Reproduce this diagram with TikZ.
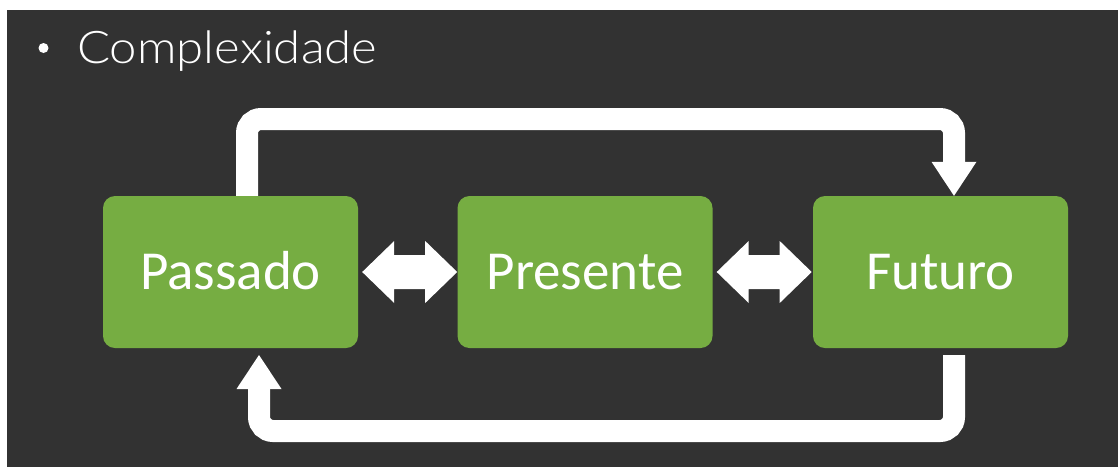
\documentclass[tikz,border=0pt]{standalone}
\usepackage{fontspec}
\setmainfont{Carlito}
\newfontfamily\titlefont{Lato}[UprightFont=* Light]
\usetikzlibrary{arrows.meta}
\definecolor{bg}{HTML}{323232}
\definecolor{grn}{HTML}{76AD42}
\begin{document}
\begin{tikzpicture}[x=1pt,y=-1pt,
  box/.style={fill=grn, rounded corners=12pt, minimum width=255pt, minimum height=152pt, inner sep=0pt, text=white, font=\fontsize{55}{60}\selectfont, text height=35pt, text depth=0pt},
  loopline/.style={draw=white, line width=22pt, rounded corners=14pt, -{Triangle[length=34pt,width=45pt,line width=0pt]}},
  dblarrow/.style={fill=white}
]
\useasboundingbox (0,0) rectangle (1118,467);
\fill[white] (0,0) rectangle (1118,467);
\fill[bg] (7,10) rectangle (1118,467);
\node[circle, fill=white, minimum size=10pt, inner sep=0pt] (bul) at (43.5,48) {};
\node[anchor=base west, inner sep=0pt, text=white, font=\titlefont\fontsize{45}{50}\selectfont] (title) at (77,63) {\scalebox{1.09}[1]{Complexidade}};
\node[box] (p) at (230.5,272) {Passado};
\node[box] (r) at (585,272) {Presente};
\node[box] (f) at (940.5,272) {Futuro};
\coordinate (t1) at (247,119);
\coordinate (t2) at (954,119);
\coordinate (b0) at (954,355);
\coordinate (b1) at (954,431);
\coordinate (b2) at (259,431);
\coordinate (b3) at (259,355);
\draw[loopline] (p.north -| t1) -- (t1) -- (t2) -- (f.north -| t2);
\draw[loopline] (b0) -- (b1) -- (b2) -- (b3);
\fill[dblarrow] ([xshift=4pt]p.east) -- ++(32,-31) -- ++(0,14) -- ++(31,0) -- ++(0,-14) -- ++(32,31)
  -- ++(-32,31) -- ++(0,-14) -- ++(-31,0) -- ++(0,14) -- cycle;
\fill[dblarrow] ([xshift=4pt]r.east) -- ++(32,-31) -- ++(0,14) -- ++(31,0) -- ++(0,-14) -- ++(32,31)
  -- ++(-32,31) -- ++(0,-14) -- ++(-31,0) -- ++(0,14) -- cycle;
\end{tikzpicture}
\end{document}
